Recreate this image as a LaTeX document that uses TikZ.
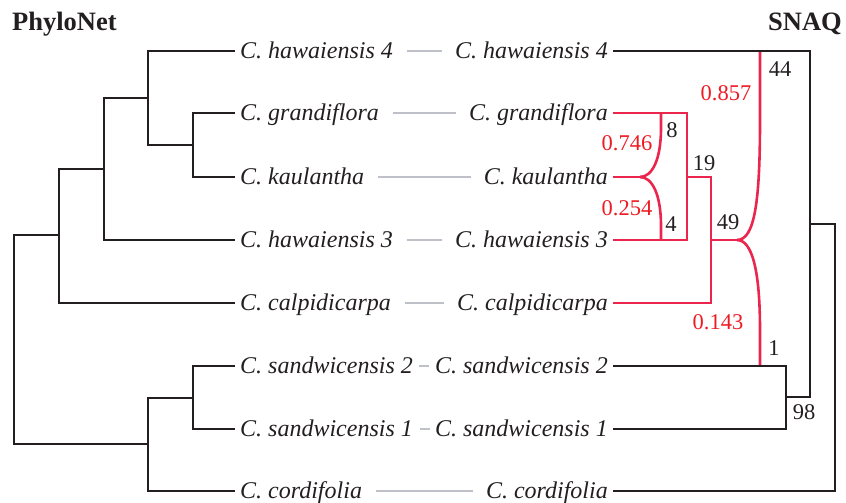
\documentclass[tikz,border=0pt]{standalone}
\usepackage{fontspec}
\setmainfont{Liberation Serif}
\definecolor{treeblack}{RGB}{35,31,32}
\definecolor{hybred}{RGB}{234,38,78}
\definecolor{numred}{RGB}{237,28,36}
\definecolor{linkgray}{RGB}{190,194,200}
\begin{document}
\begin{tikzpicture}[x=1pt,y=-1pt,
  branch/.style={draw=treeblack,line width=2.6pt},
  hyb/.style={draw=hybred,line width=2.6pt},
  link/.style={draw=linkgray,line width=2.6pt,shorten <=14pt,shorten >=13pt},
  taxon/.style={inner sep=0pt,font=\fontsize{24}{28}\selectfont\itshape,text height=17pt,text depth=2pt,text=treeblack},
  support/.style={inner sep=0pt,font=\fontsize{22.5}{27}\selectfont,text=treeblack},
  inher/.style={support,text=numred},
  title/.style={inner sep=0pt,font=\fontsize{26.5}{30}\selectfont\bfseries,text=treeblack}]
\useasboundingbox (0,0) rectangle (846,503);

% titles
\node[title,anchor=base west] (t1) at (12,31) {PhyloNet};
\node[title,anchor=base east] (t2) at (842,31) {SNAQ};

% taxon labels
\foreach \i/\y/\name in {1/51/C. hawaiensis 4,2/113/C. grandiflora,3/177/C. kaulantha,4/240/C. hawaiensis 3,5/303/C. calpidicarpa,6/366/C. sandwicensis 2,7/429/C. sandwicensis 1,8/491/C. cordifolia}{
  \node[taxon,anchor=west] (L\i) at (240,\y) {\name};
  \node[taxon,anchor=east] (R\i) at (608,\y) {\name};
  \coordinate (lt\i) at (235,\y);
  \coordinate (rt\i) at (613,\y);
}

% gray links
\draw[link] (L1.east) -- (R1.west);
\draw[link] (L2.east) -- (R2.west);
\draw[link] (L3.east) -- (R3.west);
\draw[link] (L4.east) -- (R4.west);
\draw[link] (L5.east) -- (R5.west);
\draw[link,shorten <=6pt,shorten >=6pt] (L6.east) -- (R6.west);
\draw[link,shorten <=7pt,shorten >=5pt] (L7.east) -- (R7.west);
\draw[link] (L8.east) -- (R8.west);

% left tree (PhyloNet)
\coordinate (a) at (193,145);
\coordinate (b) at (148,98);
\coordinate (c) at (104,169);
\coordinate (d) at (59,235);
\coordinate (e) at (193,398);
\coordinate (f) at (148,444);
\coordinate (g) at (14,340);
\draw[branch] (lt2) -| (a) |- (lt3);
\draw[branch] (lt1) -| (b) |- (a);
\draw[branch] (b) -| (c) |- (lt4);
\draw[branch] (c) -| (d) |- (lt5);
\draw[branch] (lt6) -| (e) |- (lt7);
\draw[branch] (e) -| (f) |- (lt8);
\draw[branch] (d) -| (g) |- (f);

% right tree (SNAQ)
\coordinate (B) at (687,177);
\coordinate (C) at (711,240);
\coordinate (D) at (786,397);
\coordinate (E) at (810,224);
\coordinate (F) at (835,357);
\coordinate (k) at (640,177);
\coordinate (gA) at (661,113);
\coordinate (hA) at (661,240);
\coordinate (m) at (737,240);
\coordinate (top) at (760,51);
\coordinate (bot) at (760,366);

\draw[hyb] (rt2) -| (B) |- (rt4);
\draw[hyb] (B) -| (C) |- (rt5);
\draw[hyb] (rt3) -- (k);
\draw[hyb] (k) .. controls (652,177) and (661,160) .. (661,128) -- (gA);
\draw[hyb] (k) .. controls (652,177) and (661,194) .. (661,226) -- (hA);
\draw[hyb] (C) -- (m);
\draw[hyb] (m) .. controls (755,240) and (760,200) .. (760,120) -- (top);
\draw[hyb] (m) .. controls (752,240) and (760,270) .. (760,330) -- (bot);

\draw[branch] (rt6) -| (D) |- (rt7);
\draw[branch] (rt1) -| (E) |- (D);
\draw[branch] (E) -| (F) |- (rt8);

% support values and inheritance probabilities
\node[support] (s44) at (780,69) {44};
\node[inher] (p857) at (726,93) {0.857};
\node[support] (s8) at (672,130) {8};
\node[inher] (p746) at (627,143) {0.746};
\node[support] (s19) at (704,163) {19};
\node[inher] (p254) at (627,208) {0.254};
\node[support] (s4) at (671,224) {4};
\node[support] (s49) at (728,222) {49};
\node[inher] (p143) at (718,322) {0.143};
\node[support] (s1) at (774,348) {1};
\node[support] (s98) at (804,412) {98};
\end{tikzpicture}
\end{document}
